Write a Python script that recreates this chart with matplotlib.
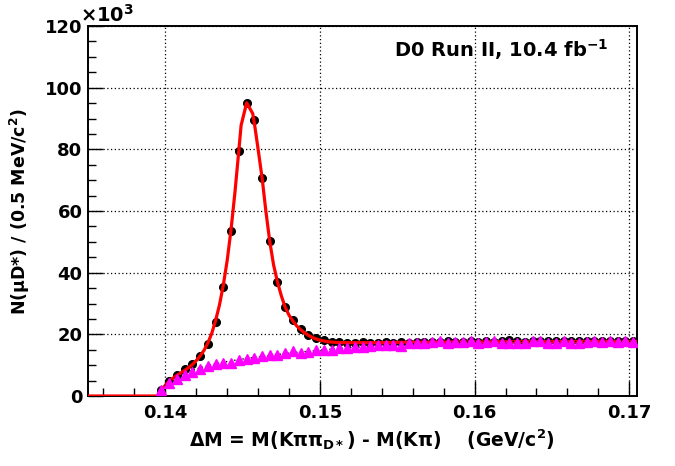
import numpy as np
import matplotlib
matplotlib.use("Agg")
from matplotlib import pyplot as plt
from matplotlib.ticker import MultipleLocator

plt.rcParams['font.family'] = ['DejaVu Sans']
plt.rcParams['font.weight'] = 'bold'
plt.rcParams['axes.labelweight'] = 'bold'
plt.rcParams['mathtext.fontset'] = 'custom'
plt.rcParams['mathtext.rm'] = 'DejaVu Sans:bold'
plt.rcParams['mathtext.it'] = 'DejaVu Sans:bold'
plt.rcParams['mathtext.bf'] = 'DejaVu Sans:bold'

# delta M histogram, 0.5 MeV bins starting at 0.1395 GeV, counts in units of 10^3
first_bin_center = 0.13975
bin_width = 0.0005

data_counts = [
    1.9, 5.0, 6.8, 8.6, 10.4, 13.1, 16.9, 24.1, 35.2, 53.6,
    79.6, 94.9, 89.5, 70.6, 50.2, 37.0, 28.8, 24.6, 21.7, 19.8,
    18.7, 18.1, 17.6, 17.5,
    17.3, 17.2, 17.4, 17.1, 17.3, 17.4, 17.2, 17.5, 17.3, 17.4,
    17.6, 17.4, 17.5, 17.7, 17.4, 17.6, 17.8, 17.5, 17.9, 17.6,
    17.7, 18.3, 17.8, 17.6, 17.9, 17.7, 17.8, 18.0, 17.7, 17.9,
    18.0, 17.8, 17.7, 18.0, 17.9, 17.8, 18.0, 17.7,
]

# wrong-sign / background sample
bkg_counts = [
    1.9, 4.1, 5.5, 6.8, 7.9, 8.6, 9.7, 10.4, 10.8, 10.8,
    11.7, 11.9, 12.4, 13.0, 13.2, 13.4, 13.8, 14.7, 14.0, 14.4,
    14.9, 14.9, 14.9, 15.5, 15.5, 16.0, 16.0, 16.3, 16.5, 16.5,
    16.7, 16.3, 17.1, 17.3, 17.1, 17.6, 17.8, 17.1, 17.4, 17.4,
    17.9, 17.1, 17.6, 17.9, 17.3, 17.3, 17.1, 17.3, 17.8, 17.9,
    17.3, 17.3, 17.8, 17.3, 17.1, 17.6, 17.9, 17.6, 17.9, 17.6,
    17.9, 17.6,
]

# fitted signal + background curve
fit_x = [0.1350, 0.1395, 0.13975, 0.1400, 0.14025, 0.1405, 0.14075, 0.1410,
         0.14125, 0.1415, 0.14175, 0.1420, 0.14225, 0.1425, 0.14275, 0.1430,
         0.14325, 0.1435, 0.14375, 0.1440, 0.14425, 0.1445, 0.14475, 0.1449,
         0.14526, 0.14565, 0.14576, 0.1460, 0.14626, 0.1465, 0.14675, 0.1470,
         0.14725, 0.1475, 0.14775, 0.1480, 0.14825, 0.1485, 0.14875, 0.1490,
         0.14925, 0.1495, 0.14975, 0.1500, 0.1505, 0.1510, 0.1515, 0.1520,
         0.1530, 0.1540, 0.1550, 0.1560, 0.1580, 0.1600, 0.1620, 0.1650,
         0.1680, 0.1705]
fit_y = [0.0, 0.0, 1.9, 3.5, 4.8, 5.8, 6.7, 7.5,
         8.3, 9.2, 10.2, 11.5, 13.0, 14.8, 17.2, 20.3,
         24.5, 29.5, 36.0, 44.0, 54.0, 66.0, 79.5, 87.8,
         95.1, 91.6, 88.4, 80.0, 70.6, 60.0, 50.2, 42.5,
         37.0, 32.5, 28.8, 26.2, 24.3, 22.7, 21.5, 20.5,
         19.7, 19.0, 18.5, 18.1, 17.6, 17.4, 17.3, 17.3,
         17.3, 17.3, 17.4, 17.4, 17.5, 17.5, 17.6, 17.6,
         17.7, 17.7]

# background component of the fit
bkg_fit_x = [0.1395, 0.13975, 0.1400, 0.1405, 0.1410, 0.1420, 0.1430, 0.1440,
             0.1450, 0.1460, 0.1470, 0.1480, 0.1490, 0.1500, 0.1520, 0.1540,
             0.1560, 0.1580, 0.1600, 0.1650, 0.1705]
bkg_fit_y = [0.0, 2.0, 3.5, 5.5, 7.0, 8.8, 10.2, 11.2,
             12.0, 12.7, 13.3, 13.9, 14.4, 14.9, 15.7, 16.3,
             16.9, 17.3, 17.6, 17.7, 17.8]

bin_centers = first_bin_center + bin_width * np.arange(len(data_counts))

fig = plt.figure(figsize=(6.75, 4.66), dpi=100)
ax = fig.add_axes([0.1304, 0.1502, 0.8133, 0.794])

ax.plot(bin_centers, data_counts, 'o', color='black', markersize=5.5, zorder=3)
ax.plot(fit_x, fit_y, '-', color='red', lw=2.3, zorder=4)
ax.plot(bkg_fit_x, bkg_fit_y, color='black', lw=1, linestyle=(0, (1, 2)), zorder=4)
ax.plot(bin_centers, bkg_counts, '^', color='#ff00ff', markersize=6.5, zorder=5)

ax.set_xlim(0.135, 0.1705)
ax.set_ylim(0, 120)
ax.xaxis.set_major_locator(MultipleLocator(0.01))
ax.xaxis.set_minor_locator(MultipleLocator(0.002))
ax.yaxis.set_major_locator(MultipleLocator(20))
ax.yaxis.set_minor_locator(MultipleLocator(5))
ax.set_xticks([0.14, 0.15, 0.16, 0.17])
ax.set_xticklabels(['0.14', '0.15', '0.16', '0.17'])

ax.tick_params(which='both', direction='in', top=False, right=False,
               labelsize=13, width=1)
ax.tick_params(which='major', length=11)
ax.tick_params(axis='x', which='major', pad=6)
ax.tick_params(axis='y', which='major', pad=4)
ax.tick_params(which='minor', length=6)
for s in ax.spines.values():
    s.set_linewidth(1.4)

ax.grid(True, which='major', color='black', lw=0.9, linestyle=(0, (1, 2)))

ax.set_ylabel(r'N($\mu$D*) / (0.5 MeV/c$^{2}$)', fontsize=12.5)
ax.yaxis.set_label_coords(-0.102, 0.497)
fig.text(0.551, 0.057,
         r'$\Delta$M = M(K$\pi\pi_{\mathrm{D*}}$) - M(K$\pi$)    (GeV/c$^{2}$)',
         ha='center', va='center', fontsize=13.5)
fig.text(0.118, 0.968, r'$\times$10$^{3}$', ha='left', va='center', fontsize=14)
ax.text(0.557, 0.916, r'D0 Run II, 10.4 fb$^{-1}$', transform=ax.transAxes,
        ha='left', va='baseline', fontsize=14)

fig.savefig('out.png', dpi=100)
